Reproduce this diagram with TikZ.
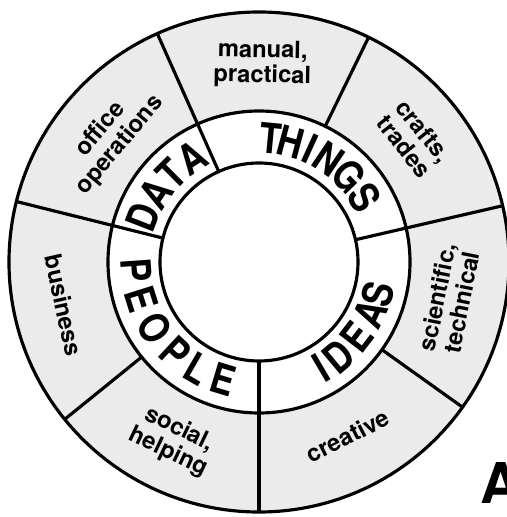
\documentclass[tikz,border=0pt]{standalone}
\usepackage{fontspec}
\setmainfont{TeX Gyre Heros}
\newfontfamily\ringfont[FakeStretch=0.85]{TeX Gyre Heros}

\begin{document}
\begin{tikzpicture}[
    % Estilos
    ringline/.style={line width=1.8pt, black},
    speckle/.style={fill=black!8},
    sectorlabel/.style={font=\bfseries\fontsize{13.5}{14.2}\selectfont, align=center, inner sep=0pt},
    bigletter/.style={font=\ringfont\bfseries\fontsize{23.7}{24}\selectfont, inner sep=0pt}
]
\useasboundingbox (-5.18,-5.10) rectangle (4.96,5.24);

% -------------------------
% ANILLOS
% -------------------------
\fill[speckle, even odd rule] (0,0) circle (5.0) (0,0) circle (3.02);
\draw[ringline] (0,0) circle (5.0);
\draw[ringline] (0,0) circle (3.02);
\draw[ringline] (0,0) circle (1.98);

% divisiones por los dos anillos
\foreach \a in {13,114,166,270}
    \draw[ringline] (\a:1.98) -- (\a:5.0);
% divisiones solo en el anillo exterior
\foreach \a in {64,219,324.5}
    \draw[ringline] (\a:3.02) -- (\a:5.0);

% -------------------------
% ANILLO EXTERIOR
% -------------------------
\node[sectorlabel, rotate=-1] (manual) at (89:3.96) {manual,\\practical};
\node[sectorlabel, rotate=-51.5] (crafts) at (38.5:3.96) {crafts,\\trades};
\node[sectorlabel, rotate=78.75] (scientific) at (348.75:3.88) {scientific,\\technical};
\node[sectorlabel, rotate=27] (creative) at (297:3.9) {creative};
\node[sectorlabel, rotate=-25.5] (social) at (244.5:3.96) {social,\\helping};
\node[sectorlabel, rotate=-77.5] (business) at (192.5:4.0) {business};
\node[sectorlabel, rotate=50] (office) at (140:3.88) {office\\operations};

% -------------------------
% ANILLO INTERIOR
% -------------------------
\foreach \l/\a [count=\i] in {T/84.5,H/75,I/65.5,N/56,G/43.7,S/31.5}
    \node[bigletter, rotate=\a-90] (things\i) at (\a:2.48) {\l};
\foreach \l/\a [count=\i] in {D/158.7,A/146.5,T/134.8,A/123}
    \node[bigletter, rotate=\a-90] (data\i) at (\a:2.48) {\l};
\foreach \l/\a [count=\i] in {I/-59.5,D/-50,E/-37.5,A/-25,S/-15}
    \node[bigletter, rotate=\a+90] (ideas\i) at (\a:2.46) {\l};
\foreach \l/\a [count=\i] in {P/184,E/197.6,O/212.3,P/227,L/240,E/253.2}
    \node[bigletter, rotate=\a+90] (people\i) at (\a:2.46) {\l};

% letra de la figura
\node[font=\bfseries\fontsize{32}{32}\selectfont, anchor=base west, inner sep=0pt] (panel) at (4.42,-4.82) {A};

\end{tikzpicture}
\end{document}
